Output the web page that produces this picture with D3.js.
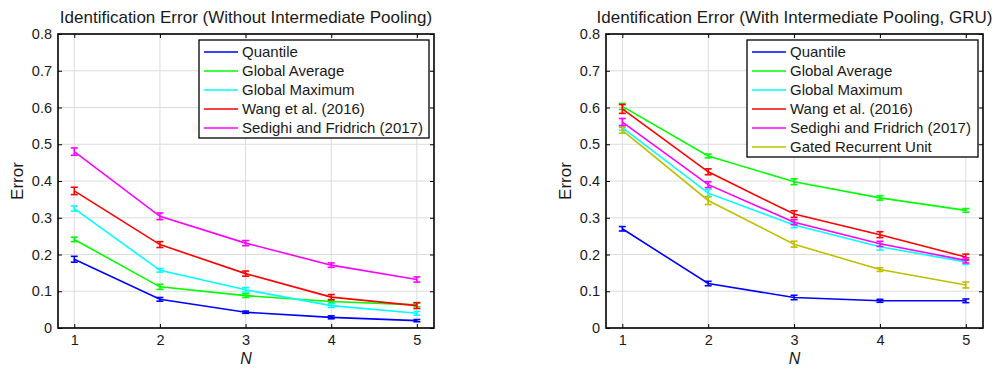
<!DOCTYPE html>
<html>
<head>
<meta charset="utf-8">
<script src="https://cdn.jsdelivr.net/npm/d3@7"></script>
<style>
  html, body { margin: 0; padding: 0; background: #fff; }
  svg { display: block; font-family: "Liberation Sans", Arial, Helvetica, sans-serif; }
</style>
</head>
<body>
<svg id="chart" width="1000" height="368"></svg>
<script>
// Window sizes N on the x axis
const nValues = [1, 2, 3, 4, 5];
const yTicks = [0, 0.1, 0.2, 0.3, 0.4, 0.5, 0.6, 0.7, 0.8];

// Series names and colours
const seriesNames = ["Quantile", "Global Average", "Global Maximum", "Wang et al. (2016)", "Sedighi and Fridrich (2017)", "Gated Recurrent Unit"];
const seriesColors = ["#0000ff", "#00ff00", "#00ffff", "#ff0000", "#ff00ff", "#bfbf00"];

// Without intermediate pooling: mean error and error-bar half widths
const leftQuantile = [0.187, 0.078, 0.043, 0.029, 0.020];
const leftQuantileErr = [0.008, 0.005, 0.003, 0.004, 0.003];
const leftAverage = [0.241, 0.112, 0.088, 0.072, 0.063];
const leftAverageErr = [0.006, 0.007, 0.005, 0.004, 0.005];
const leftMaximum = [0.325, 0.157, 0.104, 0.061, 0.040];
const leftMaximumErr = [0.007, 0.005, 0.006, 0.005, 0.005];
const leftWang = [0.373, 0.227, 0.148, 0.084, 0.061];
const leftWangErr = [0.010, 0.008, 0.007, 0.007, 0.008];
const leftSedighi = [0.480, 0.304, 0.231, 0.171, 0.132];
const leftSedighiErr = [0.010, 0.009, 0.007, 0.006, 0.007];

// With intermediate pooling and GRU
const rightQuantile = [0.270, 0.121, 0.083, 0.074, 0.074];
const rightQuantileErr = [0.006, 0.006, 0.006, 0.004, 0.005];
const rightAverage = [0.603, 0.468, 0.398, 0.354, 0.320];
const rightAverageErr = [0.008, 0.005, 0.008, 0.006, 0.005];
const rightMaximum = [0.545, 0.367, 0.280, 0.221, 0.180];
const rightMaximumErr = [0.007, 0.010, 0.007, 0.009, 0.007];
const rightWang = [0.596, 0.425, 0.310, 0.254, 0.193];
const rightWangErr = [0.012, 0.008, 0.009, 0.008, 0.008];
const rightSedighi = [0.560, 0.390, 0.288, 0.229, 0.184];
const rightSedighiErr = [0.010, 0.008, 0.007, 0.007, 0.007];
const rightGRU = [0.538, 0.347, 0.228, 0.159, 0.117];
const rightGRUErr = [0.008, 0.011, 0.008, 0.005, 0.008];

const panels = [
  {
    title: "Identification Error (Without Intermediate Pooling)",
    left: 58, right: 434, top: 34, bottom: 328,
    legend: { x: 199, y: 40, w: 230 },
    series: [
      [leftQuantile, leftQuantileErr],
      [leftAverage, leftAverageErr],
      [leftMaximum, leftMaximumErr],
      [leftWang, leftWangErr],
      [leftSedighi, leftSedighiErr]
    ]
  },
  {
    title: "Identification Error (With Intermediate Pooling, GRU)",
    left: 606, right: 983, top: 34, bottom: 328,
    legend: { x: 747, y: 40, w: 231 },
    series: [
      [rightQuantile, rightQuantileErr],
      [rightAverage, rightAverageErr],
      [rightMaximum, rightMaximumErr],
      [rightWang, rightWangErr],
      [rightSedighi, rightSedighiErr],
      [rightGRU, rightGRUErr]
    ]
  }
];

const svg = d3.select("#chart");
const textColor = "#1a1a1a";

panels.forEach(p => {
  const x = d3.scaleLinear().domain([0.81, 5.2]).range([p.left, p.right]);
  const y = d3.scaleLinear().domain([0, 0.8]).range([p.bottom, p.top]);
  const g = svg.append("g");

  // grid
  g.append("g").selectAll("line").data(nValues).join("line")
    .attr("x1", d => x(d)).attr("x2", d => x(d))
    .attr("y1", p.top).attr("y2", p.bottom)
    .attr("stroke", "#dcdcdc").attr("stroke-width", 1);
  g.append("g").selectAll("line").data(yTicks).join("line")
    .attr("y1", d => y(d)).attr("y2", d => y(d))
    .attr("x1", p.left).attr("x2", p.right)
    .attr("stroke", "#dcdcdc").attr("stroke-width", 1);

  // axes with inward ticks on all four sides
  const tickFont = "14.5px";
  const ax = g.append("g").attr("transform", `translate(0,${p.bottom})`)
    .call(d3.axisBottom(x).tickValues(nValues).tickFormat(d3.format("d")).tickSize(-4).tickPadding(7));
  const ay = g.append("g").attr("transform", `translate(${p.left},0)`)
    .call(d3.axisLeft(y).tickValues(yTicks).tickFormat(d => d === 0 ? "0" : d3.format(".1f")(d)).tickSize(-4).tickPadding(6));
  const axT = g.append("g").attr("transform", `translate(0,${p.top})`)
    .call(d3.axisTop(x).tickValues(nValues).tickFormat("").tickSize(-4));
  const ayR = g.append("g").attr("transform", `translate(${p.right},0)`)
    .call(d3.axisRight(y).tickValues(yTicks).tickFormat("").tickSize(-4));
  [ax, ay, axT, ayR].forEach(a => {
    a.select(".domain").remove();
    a.selectAll(".tick line").attr("stroke", "#000").attr("stroke-width", 1);
    a.selectAll(".tick text").attr("fill", textColor).style("font-size", tickFont).style("font-family", "'Liberation Sans', Arial, sans-serif");
  });
  g.append("rect")
    .attr("x", p.left).attr("y", p.top)
    .attr("width", p.right - p.left).attr("height", p.bottom - p.top)
    .attr("fill", "none").attr("stroke", "#000").attr("stroke-width", 1.6);

  // series lines with error bars
  const line = d3.line().x((d, i) => x(nValues[i])).y(d => y(d));
  p.series.forEach((s, k) => {
    const [vals, errs] = s;
    const col = seriesColors[k];
    const sg = g.append("g");
    sg.append("path").datum(vals).attr("d", line)
      .attr("fill", "none").attr("stroke", col).attr("stroke-width", 1.6);
    const bars = sg.selectAll("g").data(vals).join("g");
    bars.append("line")
      .attr("x1", (d, i) => x(nValues[i])).attr("x2", (d, i) => x(nValues[i]))
      .attr("y1", (d, i) => y(d - errs[i])).attr("y2", (d, i) => y(d + errs[i]))
      .attr("stroke", col).attr("stroke-width", 1.6);
    [-1, 1].forEach(sign => {
      bars.append("line")
        .attr("x1", (d, i) => x(nValues[i]) - 3.5).attr("x2", (d, i) => x(nValues[i]) + 3.5)
        .attr("y1", (d, i) => y(d + sign * errs[i])).attr("y2", (d, i) => y(d + sign * errs[i]))
        .attr("stroke", col).attr("stroke-width", 1.6);
    });
  });

  // title
  g.append("text").attr("x", (p.left + p.right) / 2).attr("y", 23)
    .attr("text-anchor", "middle").attr("fill", textColor)
    .style("font-size", "17px").text(p.title);

  // axis labels
  g.append("text").attr("x", (p.left + p.right) / 2).attr("y", 364)
    .attr("text-anchor", "middle").attr("fill", textColor)
    .style("font-size", "16px").style("font-style", "italic").text("N");
  g.append("text")
    .attr("transform", `translate(${p.left - 35},${(p.top + p.bottom) / 2}) rotate(-90)`)
    .attr("text-anchor", "middle").attr("fill", textColor)
    .style("font-size", "17px").text("Error");

  // legend
  const n = p.series.length;
  const rowH = 19;
  const lg = g.append("g");
  lg.append("rect").attr("x", p.legend.x).attr("y", p.legend.y)
    .attr("width", p.legend.w).attr("height", n * rowH + 3)
    .attr("fill", "#fff").attr("stroke", "#000").attr("stroke-width", 1.3);
  for (let k = 0; k < n; k++) {
    const cy = p.legend.y + 12 + k * rowH;
    lg.append("line").attr("x1", p.legend.x + 5).attr("x2", p.legend.x + 39)
      .attr("y1", cy).attr("y2", cy)
      .attr("stroke", seriesColors[k]).attr("stroke-width", 1.6);
    lg.append("text").attr("x", p.legend.x + 43).attr("y", cy + 5)
      .attr("fill", textColor).style("font-size", "15px").text(seriesNames[k]);
  }
});
</script>
</body>
</html>
